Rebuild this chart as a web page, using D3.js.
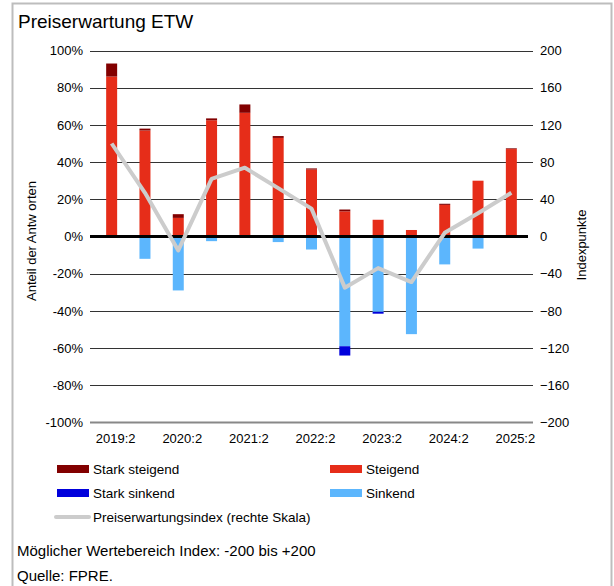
<!DOCTYPE html>
<html lang="de">
<head>
<meta charset="utf-8" />
<style>
  body { margin: 0; background: #fff; }
  svg { font-family: "Liberation Sans", Arial, sans-serif; }
</style>
</head>
<body>
<svg width="614" height="586"></svg>
<script src="https://d3js.org/d3.v7.min.js"></script>
<script>
// data (shares in %, index in points)
var categories = ["2019:2", "2020:1", "2020:2", "2021:1", "2021:2", "2022:1", "2022:2",
                  "2023:1", "2023:2", "2024:1", "2024:2", "2025:1", "2025:2"];
var starkSteigend = [7, 1, 2, 1, 4.5, 1, 0.6, 1, 0, 0, 0.6, 0, 0.4];
var steigend      = [86, 57, 10, 62.5, 66.5, 53, 36, 13.5, 9, 3.5, 17, 30, 47];
var sinkend       = [0, -12, -29, -2.5, 0, -3, -7, -59, -40.5, -52.5, -15, -6.5, 0];
var starkSinkend  = [0, 0, 0, 0, 0, 0, 0, -5, -1, 0, 0, 0, 0];
var index         = [100, 47, -15, 62, 74, 52, 30, -55, -34, -49, 4, 25, 47];
var leftTicks  = [-100, -80, -60, -40, -20, 0, 20, 40, 60, 80, 100];
var rightTicks = [-200, -160, -120, -80, -40, 0, 40, 80, 120, 160, 200];
var xLabels = ["2019:2", "2020:2", "2021:2", "2022:2", "2023:2", "2024:2", "2025:2"];

var colors = {
  starkSteigend: "#820000",
  steigend: "#e62d19",
  sinkend: "#5cb6fd",
  starkSinkend: "#0000dc",
  index: "#cccccc"
};

var svg = d3.select("svg");

// frame
svg.append("rect")
  .attr("x", 12.5).attr("y", 3.5)
  .attr("width", 599).attr("height", 600)
  .attr("fill", "none").attr("stroke", "#bdbdbd").attr("stroke-width", 2);

svg.append("text")
  .attr("x", 18).attr("y", 28)
  .style("font-size", "19px")
  .text("Preiserwartung ETW");

var x = d3.scaleBand()
  .domain(categories)
  .range([95, 528])
  .paddingInner(0.67)
  .paddingOuter(0.335);

var y = d3.scaleLinear().domain([-100, 100]).range([422.5, 50.5]);
var y2 = d3.scaleLinear().domain([-200, 200]).range([422.5, 50.5]);

// gridlines
svg.append("g")
  .selectAll("line")
  .data(leftTicks.filter(function(d) { return d !== 0 && d !== -100; }))
  .enter().append("line")
  .attr("x1", 90).attr("x2", 533)
  .attr("y1", function(d) { return Math.round(y(d)) + 0.5; })
  .attr("y2", function(d) { return Math.round(y(d)) + 0.5; })
  .attr("stroke", "#333").attr("stroke-width", 1);

svg.append("line")
  .attr("x1", 90).attr("x2", 533)
  .attr("y1", y(-100)).attr("y2", y(-100))
  .attr("stroke", "#888").attr("stroke-width", 2);

// left axis labels
var leftAxis = d3.axisLeft(y).tickValues(leftTicks)
  .tickFormat(function(d) { return d + "%"; })
  .tickSize(0).tickPadding(12);
svg.append("g")
  .attr("transform", "translate(95,0)")
  .call(leftAxis)
  .call(function(g) { g.select(".domain").remove(); })
  .selectAll("text")
  .style("font-size", "13px").attr("fill", "#000")
  .style("font-family", "'Liberation Sans', Arial, sans-serif");

var rightAxis = d3.axisRight(y2).tickValues(rightTicks)
  .tickSize(0).tickPadding(12);
svg.append("g")
  .attr("transform", "translate(528,0)")
  .call(rightAxis)
  .call(function(g) { g.select(".domain").remove(); })
  .selectAll("text")
  .style("font-size", "13px").attr("fill", "#000")
  .style("font-family", "'Liberation Sans', Arial, sans-serif");

// bars
function drawBars(base, vals, color) {
  svg.append("g")
    .selectAll("rect")
    .data(categories)
    .enter().append("rect")
    .attr("x", function(d) { return x(d); })
    .attr("width", x.bandwidth())
    .attr("y", function(d, i) { return y(Math.max(base[i], base[i] + vals[i])); })
    .attr("height", function(d, i) { return Math.abs(y(base[i]) - y(base[i] + vals[i])); })
    .attr("fill", color);
}
var zeros = categories.map(function() { return 0; });
drawBars(zeros, steigend, colors.steigend);
drawBars(steigend, starkSteigend, colors.starkSteigend);
drawBars(zeros, sinkend, colors.sinkend);
drawBars(sinkend, starkSinkend, colors.starkSinkend);

// zero line
svg.append("line")
  .attr("x1", 90).attr("x2", 528)
  .attr("y1", y(0)).attr("y2", y(0))
  .attr("stroke", "#000").attr("stroke-width", 3);

// index line
var line = d3.line()
  .x(function(d, i) { return x(categories[i]) + x.bandwidth() / 2; })
  .y(function(d) { return y2(d); });

svg.append("path")
  .datum(index)
  .attr("d", line)
  .attr("fill", "none")
  .attr("stroke", colors.index)
  .attr("stroke-width", 4)
  .attr("stroke-linejoin", "round");

// x labels
svg.append("g")
  .selectAll("text")
  .data(xLabels)
  .enter().append("text")
  .attr("x", function(d) { return x(d) + x.bandwidth() / 2 + 4; })
  .attr("y", 443)
  .attr("text-anchor", "middle")
  .style("font-size", "13px")
  .text(function(d) { return d; });

// axis titles
svg.append("text")
  .attr("transform", "translate(36,241) rotate(-90)")
  .attr("text-anchor", "middle")
  .style("font-size", "13px")
  .text("Anteil der Antw orten");

svg.append("text")
  .attr("transform", "translate(586,245) rotate(-90)")
  .attr("text-anchor", "middle")
  .style("font-size", "13px")
  .text("Indexpunkte");

// legend
var legend = [
  { label: "Stark steigend", color: colors.starkSteigend, x: 57, y: 469 },
  { label: "Steigend", color: colors.steigend, x: 330, y: 469 },
  { label: "Stark sinkend", color: colors.starkSinkend, x: 57, y: 493 },
  { label: "Sinkend", color: colors.sinkend, x: 330, y: 493 }
];
var lg = svg.append("g").selectAll("g").data(legend).enter().append("g");
lg.append("rect")
  .attr("x", function(d) { return d.x; })
  .attr("y", function(d) { return d.y - 4; })
  .attr("width", 32).attr("height", 8)
  .attr("fill", function(d) { return d.color; });
lg.append("text")
  .attr("x", function(d) { return d.x + 36; })
  .attr("y", function(d) { return d.y + 5; })
  .style("font-size", "13.5px")
  .text(function(d) { return d.label; });

svg.append("line")
  .attr("x1", 56).attr("x2", 89)
  .attr("y1", 517).attr("y2", 517)
  .attr("stroke", colors.index).attr("stroke-width", 4).attr("stroke-linecap", "round");
svg.append("text")
  .attr("x", 93).attr("y", 522)
  .style("font-size", "13.5px")
  .text("Preiserwartungsindex (rechte Skala)");

// footer
svg.append("text")
  .attr("x", 17).attr("y", 556)
  .style("font-size", "15px")
  .text("Möglicher Wertebereich Index: -200 bis +200");
svg.append("text")
  .attr("x", 17).attr("y", 581)
  .style("font-size", "15px")
  .text("Quelle: FPRE.");
</script>
</body>
</html>
